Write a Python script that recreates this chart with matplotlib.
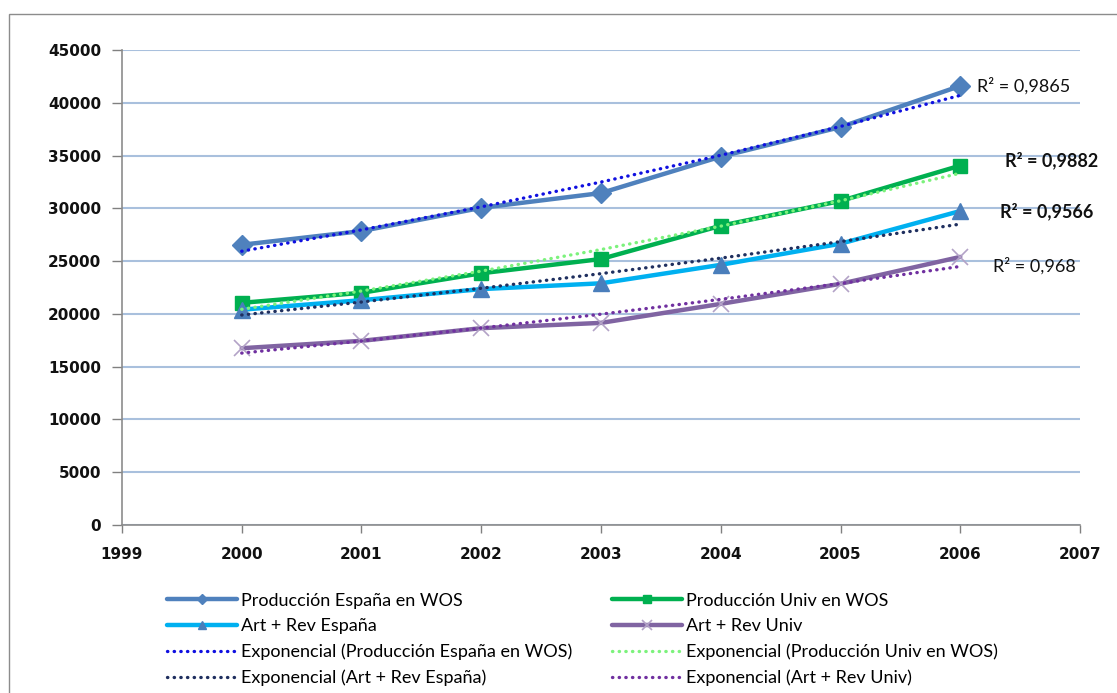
import numpy as np
import matplotlib
matplotlib.use("Agg")
import matplotlib.pyplot as plt
from matplotlib.patches import Rectangle

# series per year (documents indexed)
years = [2000, 2001, 2002, 2003, 2004, 2005, 2006]
prod_espana = [26550, 27850, 30050, 31450, 34900, 37700, 41600]
prod_univ = [21050, 22000, 23850, 25200, 28350, 30700, 34050]
art_rev_espana = [20400, 21300, 22350, 22900, 24650, 26650, 29750]
art_rev_univ = [16750, 17450, 18650, 19150, 20950, 22850, 25400]

names = ["Producción España en WOS", "Producción Univ en WOS",
         "Art + Rev España", "Art + Rev Univ"]
r2_labels = ["R² = 0,9865", "R² = 0,9882", "R² = 0,9566", "R² = 0,968"]
yticks = [0, 5000, 10000, 15000, 20000, 25000, 30000, 35000, 40000, 45000]
xticks = [1999, 2000, 2001, 2002, 2003, 2004, 2005, 2006, 2007]

series = [prod_espana, prod_univ, art_rev_espana, art_rev_univ]
line_cols = ["#4F81BD", "#00B050", "#00B0F0", "#8064A2"]
mark_cols = ["#4F81BD", "#00B050", "#4A7EBB", "#B3A2C7"]
markers = ["D", "s", "^", "x"]
msizes = [10, 10, 11, 12]
trend_cols = ["#1010E0", "#7CF27C", "#1F2F5F", "#7030A0"]

fig = plt.figure(figsize=(11.17, 6.93), dpi=100)
ax = fig.add_axes([0.1092, 0.2424, 0.8577, 0.6854])

# thin grey frame round the chart area
fig.patches.append(Rectangle((9 / 1117, -0.1), 1.2, 0.1 + 1 - 14 / 693,
                             transform=fig.transFigure, fill=False,
                             edgecolor="#8C8C8C", lw=1.0))

handles = {}
for i, (name, vals) in enumerate(zip(names, series)):
    h, = ax.plot(years, vals, color=line_cols[i], lw=3.2, marker=markers[i],
                 markersize=msizes[i], markerfacecolor=mark_cols[i],
                 markeredgecolor=mark_cols[i],
                 markeredgewidth=1.2 if markers[i] == "x" else 1.0,
                 zorder=3, label=name, solid_capstyle="round")
    handles[name] = h

# exponential trend lines (least squares on ln y)
trend = {}
xs = np.array(years, dtype=float)
for i, (name, vals) in enumerate(zip(names, series)):
    b, a = np.polyfit(xs - 2000, np.log(vals), 1)
    yfit = np.exp(a + b * (xs - 2000))
    h, = ax.plot(xs, yfit, color=trend_cols[i], lw=2.4, ls=(0, (0.1, 1.9)),
                 dash_capstyle="round", zorder=4,
                 label="Exponencial (%s)" % name)
    trend[name] = h

# R² text next to each series end
r2_pos = [(2006.14, 41590, "normal"), (2006.37, 34580, "bold"),
          (2006.33, 29750, "bold"), (2006.27, 24540, "normal")]
for lab, (x, y, w) in zip(r2_labels, r2_pos):
    ax.text(x, y, lab, fontsize=13, family="Lato", weight=w,
            va="center", ha="left", clip_on=False, color="#111111")

ax.set_xlim(1999, 2007)
ax.set_ylim(0, 45000)
ax.set_xticks(xticks)
ax.set_yticks(yticks)
ax.set_xticklabels([str(x) for x in xticks])
ax.set_yticklabels([str(y) for y in yticks])
ax.tick_params(axis="both", labelsize=11, colors="#808080",
               labelcolor="#111111", width=1, direction="out")
ax.tick_params(axis="y", length=7, pad=8)
ax.tick_params(axis="x", length=6, pad=10)
for lab in ax.get_xticklabels() + ax.get_yticklabels():
    lab.set_fontweight("bold")

ax.grid(axis="y", color="#A9C0DD", lw=1.5)
ax.set_axisbelow(True)
for s in ["top", "right"]:
    ax.spines[s].set_visible(False)
for s in ["left", "bottom"]:
    ax.spines[s].set_color("#8C8C8C")
    ax.spines[s].set_linewidth(1.2)

order = [handles[names[0]], handles[names[2]], trend[names[0]], trend[names[2]],
         handles[names[1]], handles[names[3]], trend[names[1]], trend[names[3]]]
leg = fig.legend(handles=order, labels=[h.get_label() for h in order],
                 ncol=2, loc="upper left", bbox_to_anchor=(0.141, 0.158),
                 frameon=False, prop={"family": "Lato", "size": 13},
                 handlelength=3.9, handletextpad=0.2, labelspacing=0.52,
                 columnspacing=2.2, markerscale=0.55, borderpad=0)

fig.savefig("out.png", dpi=100, facecolor="white")
